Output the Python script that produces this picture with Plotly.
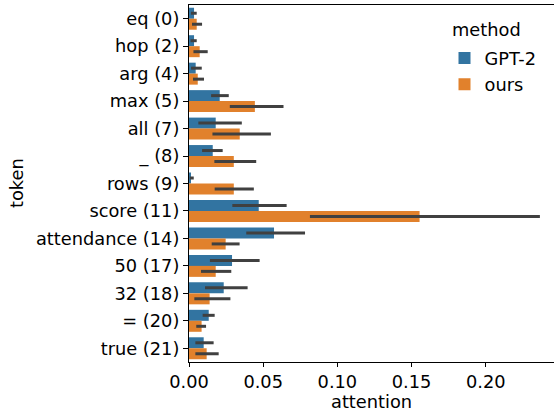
import plotly.graph_objects as go

tokens = ["eq (0)", "hop (2)", "arg (4)", "max (5)", "all (7)", "_ (8)", "rows (9)",
          "score (11)", "attendance (14)", "50 (17)", "32 (18)", "= (20)", "true (21)"]

gpt2_mean = [0.0034, 0.0034, 0.0045, 0.0207, 0.0180, 0.0160, 0.0011,
             0.0470, 0.0573, 0.0290, 0.0234, 0.0133, 0.0099]
gpt2_lo = [0.0013, 0.0010, 0.0014, 0.0149, 0.0063, 0.0088, 0.0005,
           0.0292, 0.0386, 0.0141, 0.0108, 0.0092, 0.0043]
gpt2_hi = [0.0052, 0.0052, 0.0086, 0.0268, 0.0356, 0.0227, 0.0032,
           0.0658, 0.0782, 0.0476, 0.0395, 0.0173, 0.0166]

ours_mean = [0.0052, 0.0072, 0.0059, 0.0444, 0.0342, 0.0302, 0.0302,
             0.1554, 0.0247, 0.0180, 0.0139, 0.0085, 0.0119]
ours_lo = [0.0020, 0.0030, 0.0027, 0.0275, 0.0158, 0.0171, 0.0173,
           0.0815, 0.0153, 0.0081, 0.0036, 0.0049, 0.0043]
ours_hi = [0.0088, 0.0126, 0.0101, 0.0637, 0.0552, 0.0453, 0.0437,
           0.2365, 0.0341, 0.0285, 0.0279, 0.0115, 0.0200]

x_ticks = [0.0, 0.05, 0.10, 0.15, 0.20]

FONT = "DejaVu Sans"
FS = 17.8
ERR = "#404040"

def err(mean, lo, hi):
    return dict(type="data", symmetric=False,
                array=[h - m for m, h in zip(mean, hi)],
                arrayminus=[m - l for m, l in zip(mean, lo)],
                color=ERR, thickness=3, width=0)

fig = go.Figure()
fig.add_trace(go.Bar(name="GPT-2", y=tokens, x=gpt2_mean, orientation="h",
                     legendgroup="a",
                     marker=dict(color="#3274a1", line=dict(width=0)),
                     error_x=err(gpt2_mean, gpt2_lo, gpt2_hi)))
fig.add_trace(go.Bar(name="ours", y=tokens, x=ours_mean, orientation="h",
                     legendgroup="b",
                     marker=dict(color="#e1812c", line=dict(width=0)),
                     error_x=err(ours_mean, ours_lo, ours_hi)))

fig.update_layout(
    width=554, height=412,
    margin=dict(l=189, r=0, t=5, b=50),
    paper_bgcolor="white", plot_bgcolor="white",
    barmode="group", bargap=0.2, bargroupgap=0,
    font=dict(family=FONT, size=FS, color="black"),
    showlegend=True,
    legend=dict(traceorder="normal", tracegroupgap=3,
                x=0.70, y=0.902, xanchor="left", yanchor="top",
                bgcolor="rgba(255,255,255,0.8)", font=dict(size=FS)),
    xaxis=dict(range=[0, 0.246], tickvals=x_ticks, tickformat=".2f",
               showgrid=False, zeroline=False, showline=True, mirror=True,
               linecolor="black", linewidth=1.2, ticks="outside", ticklen=4,
               tickcolor="black", tickfont=dict(size=FS)),
    yaxis=dict(categoryorder="array", categoryarray=tokens, autorange="reversed",
               showgrid=False, zeroline=False, showline=True, linecolor="black",
               linewidth=1.2, ticks="outside", ticklen=5, tickcolor="black",
               tickfont=dict(size=FS)),
    annotations=[
        dict(text="method", xref="paper", yref="paper", x=0.816, y=0.93,
             xanchor="center", yanchor="middle", showarrow=False,
             font=dict(size=FS)),
        dict(text="attention", xref="paper", yref="paper", x=0.5, y=-0.109,
             xanchor="center", yanchor="middle", showarrow=False, height=20,
             font=dict(size=FS)),
        dict(text="token", xref="paper", yref="paper", x=-0.4726, y=0.5,
             xanchor="center", yanchor="middle", textangle=-90, showarrow=False,
             font=dict(size=FS)),
    ],
)

fig.write_html("out.html", config={"displayModeBar": False},
               post_script="document.body.style.margin='0';document.body.style.overflow='hidden';")
